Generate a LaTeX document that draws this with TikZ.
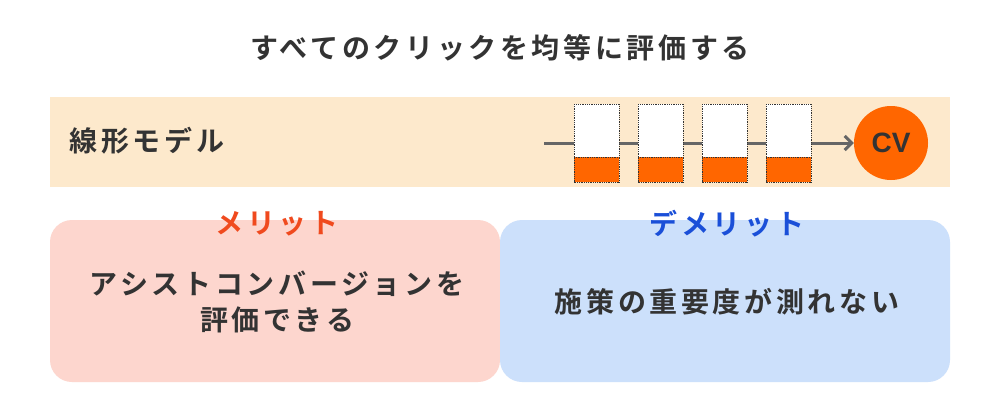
\documentclass[tikz,border=0pt]{standalone}
\usepackage{fontspec}
\setmainfont{Noto Sans CJK JP}[BoldFont={Noto Sans CJK JP Bold}]
\newfontfamily\spaced{Noto Sans CJK JP Bold}[LetterSpace=13]
\newfontfamily\cvfont{Liberation Sans Bold}
\usetikzlibrary{arrows.meta}
\definecolor{band}{HTML}{FDE9CC}
\definecolor{pinkbg}{HTML}{FDD6CE}
\definecolor{bluebg}{HTML}{CCE0FB}
\definecolor{org}{HTML}{FF6600}
\definecolor{txt}{HTML}{333333}
\definecolor{red1}{HTML}{F04A1E}
\definecolor{blue1}{HTML}{1A4FD8}
\definecolor{lineg}{HTML}{666666}
\tikzset{
 lbl/.style={font=\spaced\fontsize{28}{36}\selectfont, text=txt},
 touch/.style={draw=txt, densely dotted, line width=0.8pt},
}
\begin{document}
\begin{tikzpicture}[x=1pt,y=-1pt]
\useasboundingbox (0,0) rectangle (1000,400);
\fill[white] (0,0) rectangle (1000,400);
\node[lbl] (title) at (500,48) {すべてのクリックを均等に評価する};
\fill[band] (50,97) rectangle (950,187);
\node[lbl, anchor=west] (lin) at (66,141) {線形モデル};
\coordinate (s) at (544,143);
\node[circle, fill=org, minimum size=74pt, inner sep=0pt, font=\cvfont\fontsize{28}{32}\selectfont, text=txt] (cv) at (891,143) {CV};
\draw[lineg, line width=3pt, -{Straight Barb[length=7pt,width=14pt]}] (s) -- (cv.west);
\foreach \x/\n in {574/a,638/b,702/c,766/d}{
  \fill[white] (\x,104) rectangle (\x+45,157);
  \fill[org] (\x,157) rectangle (\x+45,182);
  \draw[touch] (\x,104) rectangle (\x+45,182);
  \draw[touch] (\x,157) -- (\x+45,157);
}
\fill[pinkbg, rounded corners=22pt] (50,220) rectangle (500,382);
\fill[bluebg, rounded corners=22pt] (500,220) rectangle (950,382);
\node[lbl, text=red1] (m) at (277,224) {メリット};
\node[lbl, text=blue1] (dm) at (727,224) {デメリット};
\node[lbl, align=center] (mt) at (277,302) {アシストコンバージョンを\\評価できる};
\node[lbl] (dt) at (727,302) {施策の重要度が測れない};
\end{tikzpicture}
\end{document}
